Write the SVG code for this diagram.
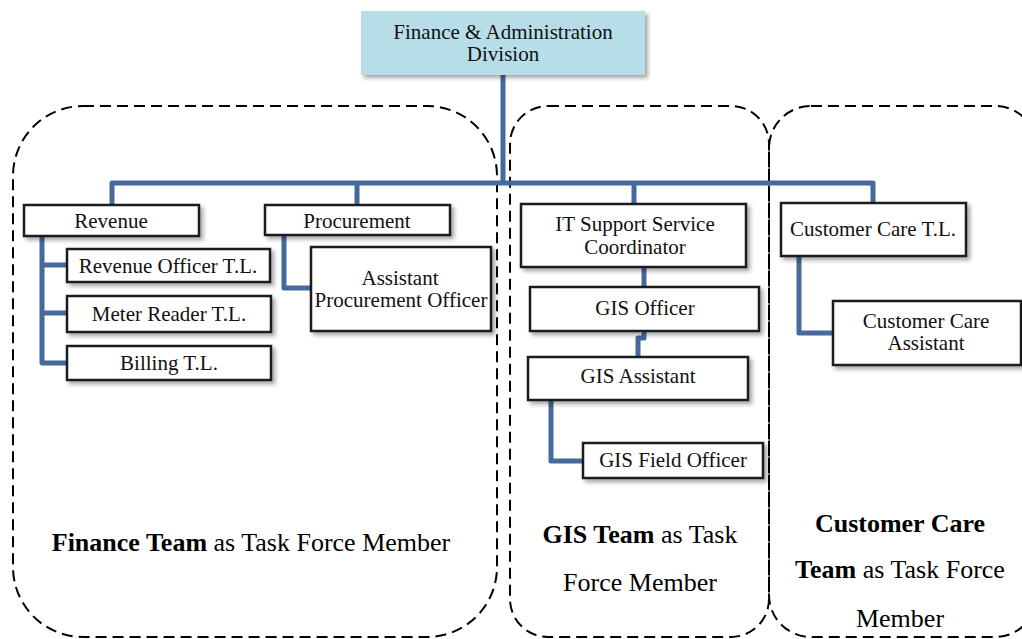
<svg xmlns="http://www.w3.org/2000/svg" width="1022" height="639" viewBox="0 0 1022 639">
<defs>
<filter id="sh" x="-10%" y="-20%" width="130%" height="160%">
<feDropShadow dx="3" dy="3" stdDeviation="2" flood-color="#000" flood-opacity="0.35"/>
</filter>
<style>
.region{fill:none;stroke:#000;stroke-width:2;stroke-dasharray:11 6}
.conn{fill:none;stroke:#46699c;stroke-width:5;stroke-linejoin:round;stroke-linecap:butt}
.box{fill:#fff;stroke:#1a1a1a;stroke-width:2.5;filter:url(#sh)}
.top{fill:#b7dde8;stroke:none;filter:url(#sh)}
.t{font-family:"Liberation Serif","Times New Roman",serif;font-size:21px;fill:#111;text-anchor:middle}
.lbl{font-family:"Liberation Serif","Times New Roman",serif;font-size:26px;fill:#000;text-anchor:middle}
.b{font-weight:bold}
</style>
</defs>

<g id="regions">
<rect id="finance-region" class="region" x="13" y="106" width="484" height="531" rx="70" ry="70"/>
<rect id="gis-region" class="region" x="510" y="106" width="259" height="531" rx="38" ry="38"/>
<rect id="cc-region" class="region" x="769" y="106" width="268" height="531" rx="42" ry="42"/>
</g>

<g id="connectors">
<path class="conn" d="M503,75 V183"/>
<path class="conn" d="M112,205 V183 H873 V203"/>
<path class="conn" d="M357,183 V205"/>
<path class="conn" d="M634,183 V204"/>
<path class="conn" d="M42,236 V363 H67 M42,265 H67 M42,313 H67"/>
<path class="conn" d="M284,235 V288 H311"/>
<path class="conn" d="M644,267 V287"/>
<path class="conn" d="M644,331 V338 H638 V357"/>
<path class="conn" d="M551,400 V461 H583"/>
<path class="conn" d="M799,256 V333 H833"/>
</g>

<g id="n-top">
<rect class="top" x="361" y="11" width="284" height="64"/>
<text class="t" x="503" y="39">Finance &amp; Administration</text>
<text class="t" x="503" y="61">Division</text>
</g>

<g id="n-revenue">
<rect class="box" x="24" y="205" width="175" height="31"/>
<text class="t" x="111" y="228">Revenue</text>
</g>
<g id="n-procurement">
<rect class="box" x="265" y="205" width="185" height="30"/>
<text class="t" x="357" y="228">Procurement</text>
</g>
<g id="n-revenue-officer">
<rect class="box" x="67" y="249" width="203" height="33"/>
<text class="t" x="168" y="273">Revenue Officer T.L.</text>
</g>
<g id="n-meter-reader">
<rect class="box" x="67" y="296" width="204" height="36"/>
<text class="t" x="169" y="321">Meter Reader T.L.</text>
</g>
<g id="n-billing">
<rect class="box" x="67" y="346" width="204" height="34"/>
<text class="t" x="169" y="370">Billing T.L.</text>
</g>
<g id="n-asst-procurement">
<rect class="box" x="311" y="247" width="180" height="84"/>
<text class="t" x="400" y="285">Assistant</text>
<text class="t" x="401" y="307">Procurement Officer</text>
</g>

<g id="n-it-support">
<rect class="box" x="521" y="204" width="225" height="63"/>
<text class="t" x="635" y="231">IT Support Service</text>
<text class="t" x="635" y="254">Coordinator</text>
</g>
<g id="n-gis-officer">
<rect class="box" x="530" y="287" width="229" height="44"/>
<text class="t" x="645" y="315">GIS Officer</text>
</g>
<g id="n-gis-assistant">
<rect class="box" x="528" y="357" width="220" height="43"/>
<text class="t" x="638" y="383">GIS Assistant</text>
</g>
<g id="n-gis-field">
<rect class="box" x="583" y="443" width="180" height="35"/>
<text class="t" x="673" y="467">GIS Field Officer</text>
</g>

<g id="n-cc-tl">
<rect class="box" x="781" y="203" width="185" height="53"/>
<text class="t" x="873" y="236">Customer Care T.L.</text>
</g>
<g id="n-cc-assistant">
<rect class="box" x="833" y="301" width="188" height="64"/>
<text class="t" x="926" y="328">Customer Care</text>
<text class="t" x="926" y="350">Assistant</text>
</g>

<g id="labels">
<text class="lbl" x="251" y="551"><tspan class="b">Finance Team</tspan> as Task Force Member</text>
<text class="lbl" x="640" y="543"><tspan class="b">GIS Team</tspan> as Task</text>
<text class="lbl" x="640" y="591">Force Member</text>
<text class="lbl b" x="900" y="532">Customer Care</text>
<text class="lbl" x="900" y="578"><tspan class="b">Team</tspan> as Task Force</text>
<text class="lbl" x="900" y="627">Member</text>
</g>
</svg>
